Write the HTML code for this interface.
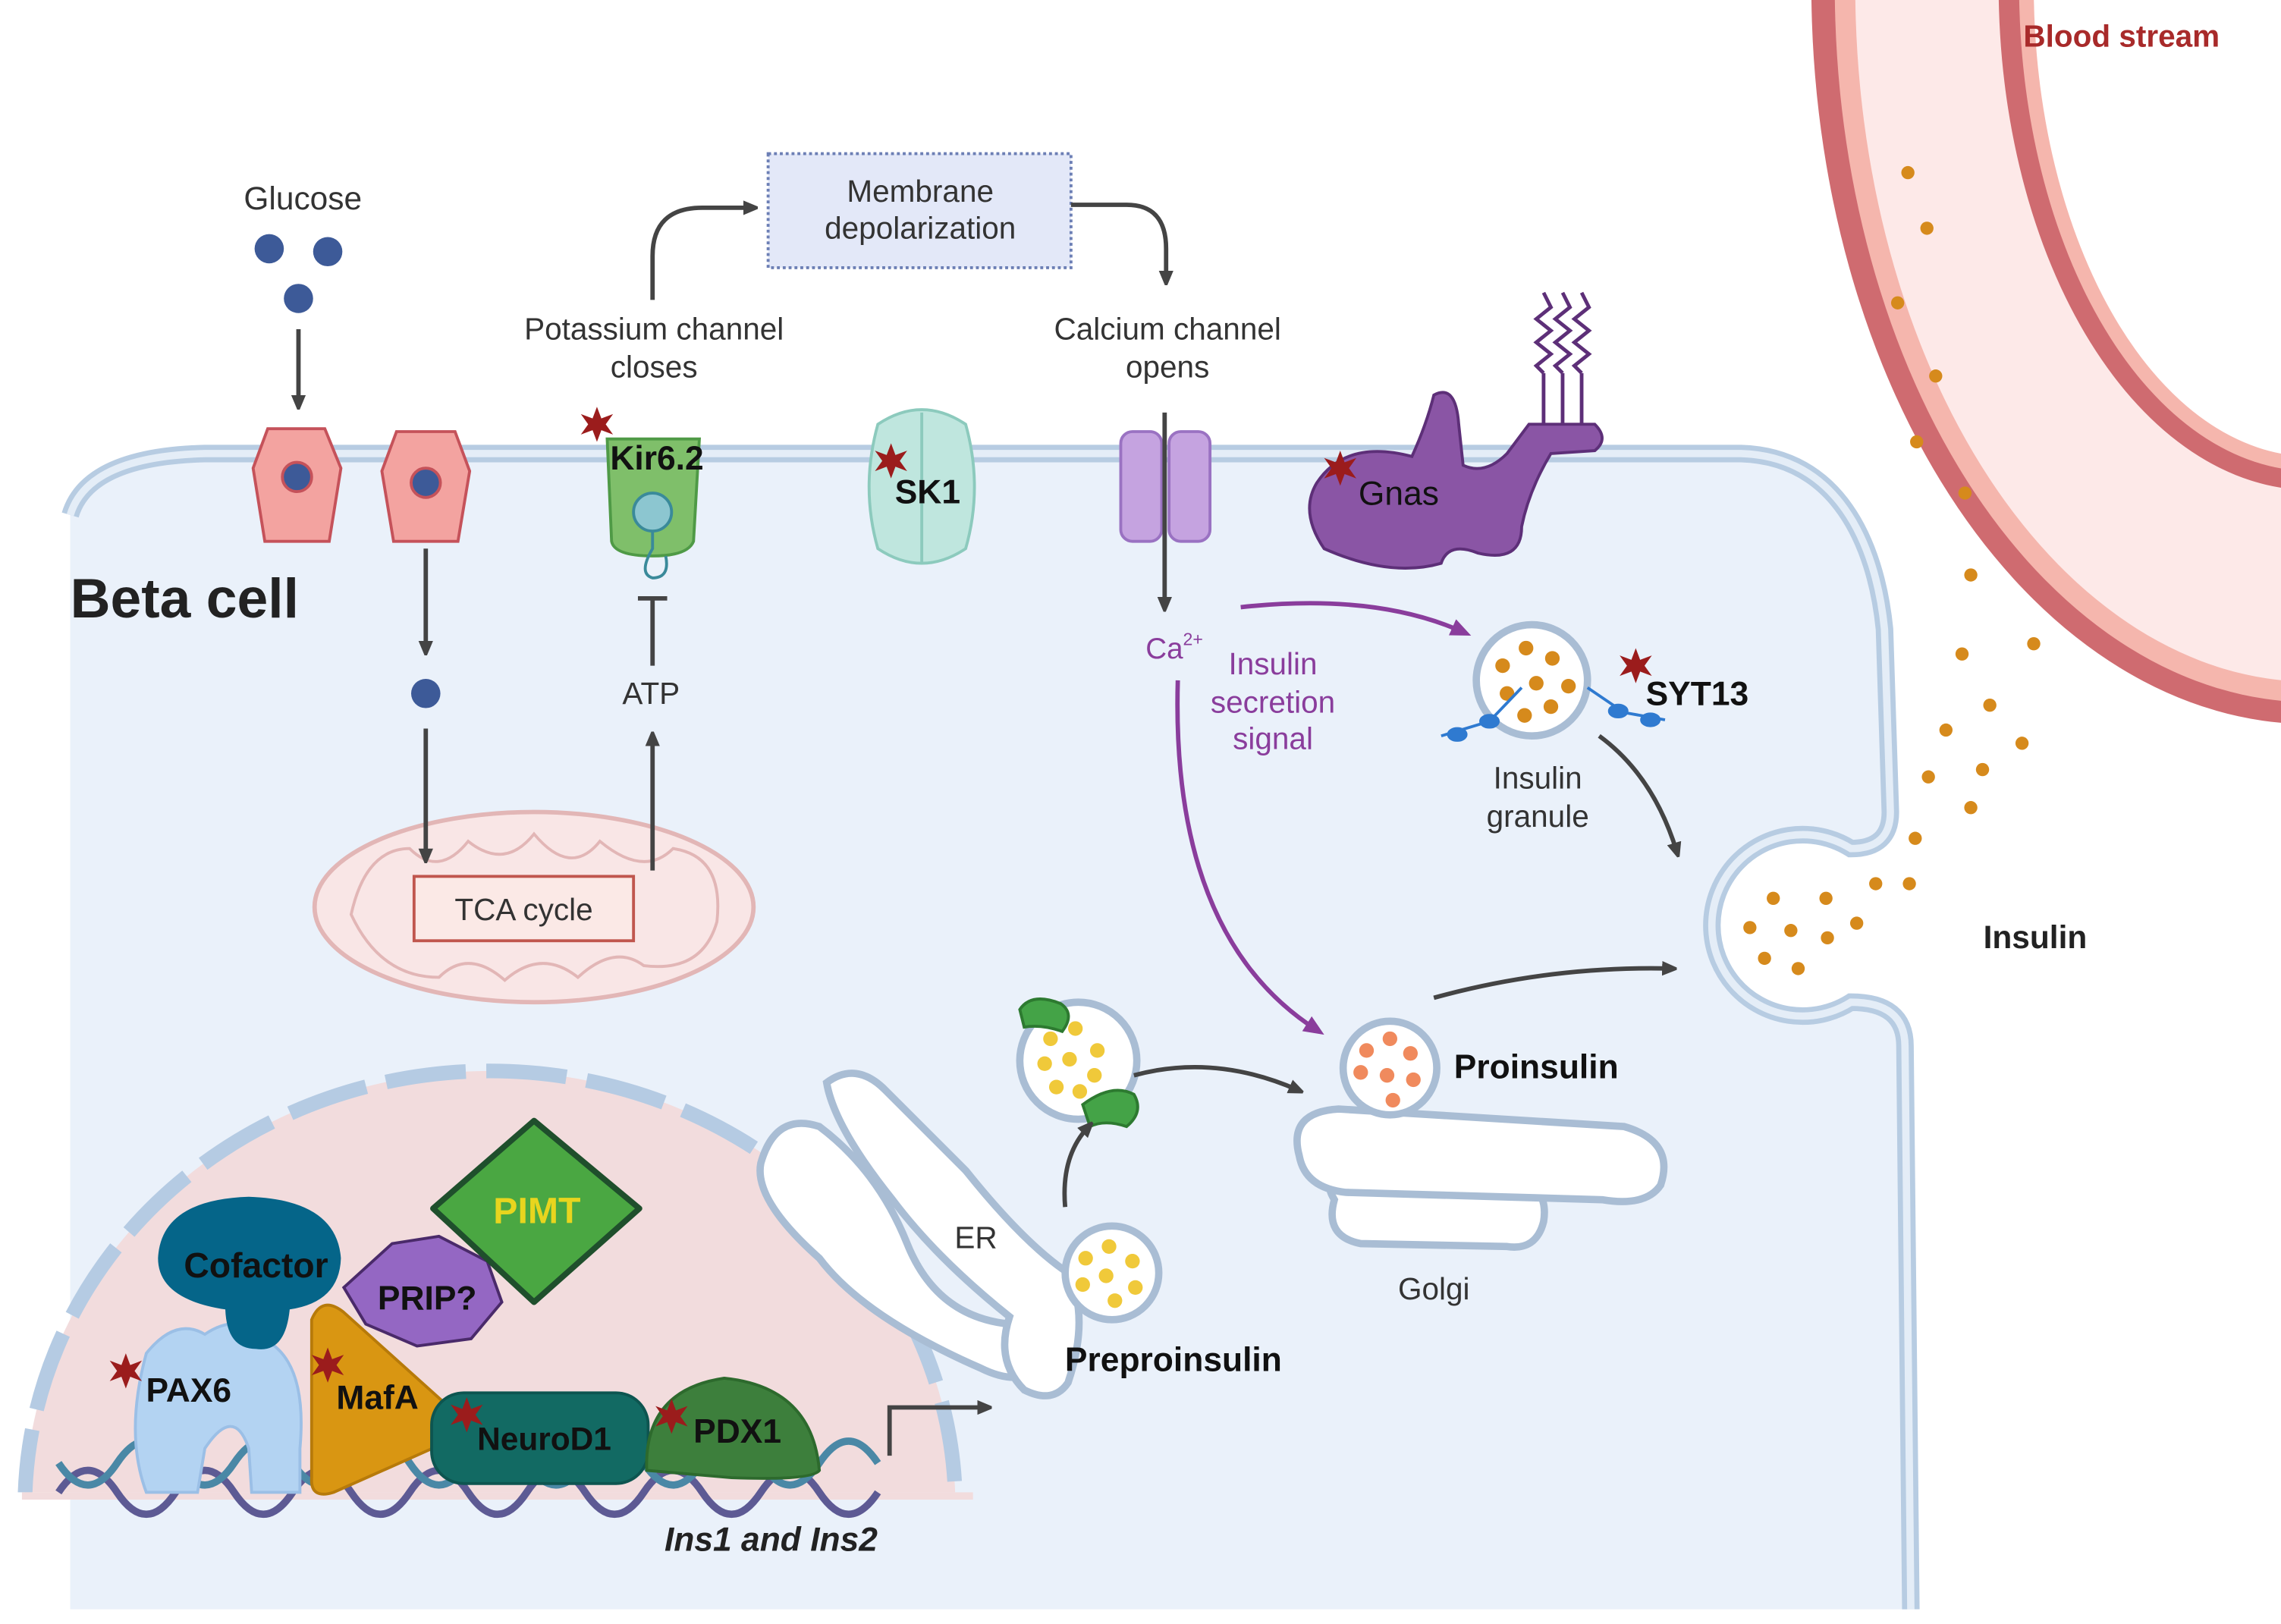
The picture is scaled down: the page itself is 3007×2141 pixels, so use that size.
<!DOCTYPE html>
<html><head><meta charset="utf-8"><style>
html,body{margin:0;padding:0;background:#fff;width:3007px;height:2141px;overflow:hidden}
svg{display:block}
text{font-family:"Liberation Sans",sans-serif}
</style></head><body>
<svg width="3007" height="2141" viewBox="0 0 1559 1110" preserveAspectRatio="none" xmlns="http://www.w3.org/2000/svg">
<defs>
<marker id="ah" markerWidth="10" markerHeight="10" refX="6" refY="5" orient="auto" markerUnits="userSpaceOnUse"><path d="M0,0 L12,5 L0,10 Z" fill="#444"/></marker>
<marker id="ap" markerWidth="14" markerHeight="12" refX="8" refY="6" orient="auto" markerUnits="userSpaceOnUse"><path d="M0,0 L14,6 L0,12 Z" fill="#8a3d9c"/></marker>
<clipPath id="nuc"><rect x="0" y="600" width="700" height="420"/></clipPath>
<clipPath id="pg"><rect x="0" y="0" width="1559" height="1110"/></clipPath>
<g id="star"><polygon points="0,-12 3,-4 11,-7 6,0 11,7 3,4 0,12 -3,4 -11,7 -6,0 -11,-7 -3,-4" fill="#9b1c1c"/></g>
</defs>
<rect width="1559" height="1110" fill="#fff"/>

<!-- Blood vessel -->
<g clip-path="url(#pg)">
<ellipse cx="1580" cy="-10" rx="342" ry="505" fill="#cf6b70"/>
<ellipse cx="1580" cy="-10" rx="326" ry="490" fill="#f5b6ad"/>
<ellipse cx="1580" cy="-10" rx="312" ry="476" fill="#fde9e8"/>
<ellipse cx="1580" cy="-10" rx="214" ry="345" fill="#cf6b70"/>
<ellipse cx="1580" cy="-10" rx="200" ry="332" fill="#f5b6ad"/>
<ellipse cx="1580" cy="-10" rx="190" ry="322" fill="#fff"/>
</g>
<text x="1450" y="32" font-size="21" font-weight="bold" fill="#a82a2a" text-anchor="middle">Blood stream</text>

<!-- Cell -->
<path d="M48,352 Q60,312 140,310 L1190,310 C1255,312 1282,370 1288,430 L1292,555 Q1292,580 1265,580 A62,62 0 1 0 1265,685 Q1302,685 1302,715 L1306,1100 L48,1100 Z" fill="#eaf1fa"/>
<path d="M48,352 Q60,312 140,310 L1190,310 C1255,312 1282,370 1288,430 L1292,555 Q1292,580 1265,580 A62,62 0 1 0 1265,685 Q1302,685 1302,715 L1306,1100" fill="none" stroke="#b7cce2" stroke-width="12"/>
<path d="M48,352 Q60,312 140,310 L1190,310 C1255,312 1282,370 1288,430 L1292,555 Q1292,580 1265,580 A62,62 0 1 0 1265,685 Q1302,685 1302,715 L1306,1100" fill="none" stroke="#e4edf7" stroke-width="5"/>
<rect x="40" y="1100" width="1280" height="10" fill="#fff"/>
<text x="48" y="422" font-size="38" font-weight="bold" fill="#222">Beta cell</text>

<!-- Mitochondrion -->
<ellipse cx="365" cy="620" rx="150" ry="65" fill="#f9e6e6" stroke="#e2b6b6" stroke-width="3"/>
<path d="M240,625 Q250,580 280,580 Q300,600 320,575 Q345,595 365,570 Q390,600 410,575 Q440,600 460,580 Q495,585 490,630 Q480,665 440,660 Q420,645 395,668 Q370,648 345,670 Q320,648 300,668 Q260,668 240,625 Z" fill="none" stroke="#e2b6b6" stroke-width="2"/>
<rect x="283" y="599" width="150" height="44" fill="#fbe9e6" stroke="#c0564e" stroke-width="2"/>
<text x="358" y="629" font-size="21" fill="#333" text-anchor="middle">TCA cycle</text>

<!-- Glucose -->
<text x="207" y="143" font-size="22" fill="#333" text-anchor="middle">Glucose</text>
<g fill="#3d5a98"><circle cx="184" cy="170" r="10"/><circle cx="224" cy="172" r="10"/><circle cx="204" cy="204" r="10"/><circle cx="291" cy="474" r="10"/></g>
<g stroke="#444" stroke-width="3"><line x1="446" y1="455" x2="446" y2="410"/><line x1="436" y1="409" x2="456" y2="409"/></g>
<text x="445" y="481" font-size="21" fill="#333" text-anchor="middle">ATP</text>

<!-- GLUTs -->
<g fill="#f3a3a0" stroke="#c5525a" stroke-width="2">
<path d="M183,293 L222,293 L233,320 L225,370 L181,370 L173,320 Z"/>
<path d="M271,295 L311,295 L321,322 L313,370 L269,370 L261,322 Z"/>
</g>
<g fill="#3d5a98" stroke="#c5525a" stroke-width="2"><circle cx="203" cy="326" r="10"/><circle cx="291" cy="330" r="10"/></g>

<!-- Kir6.2 -->
<path d="M415,300 L478,300 L474,370 Q470,380 446,380 Q420,380 418,370 Z" fill="#7fbf6a" stroke="#4f9a46" stroke-width="2"/>
<circle cx="446" cy="350" r="13" fill="#8cc6d0" stroke="#3a8a9a" stroke-width="2"/>
<path d="M446,363 L446,375 Q436,392 446,395 Q458,395 455,380" fill="none" stroke="#3a8a9a" stroke-width="2"/>
<use href="#star" x="408" y="290"/>
<text x="449" y="321" font-size="23" font-weight="bold" fill="#111" text-anchor="middle">Kir6.2</text>
<text x="447" y="232" font-size="21" fill="#333" text-anchor="middle">Potassium channel</text>
<text x="447" y="258" font-size="21" fill="#333" text-anchor="middle">closes</text>

<!-- Depolarization box -->
<rect x="525" y="105" width="207" height="78" fill="#e3e8f8" stroke="#6c7fb5" stroke-width="2" stroke-dasharray="2,2"/>
<text x="629" y="138" font-size="21" fill="#333" text-anchor="middle">Membrane</text>
<text x="629" y="163" font-size="21" fill="#333" text-anchor="middle">depolarization</text>

<!-- SK1 -->
<path d="M600,290 Q630,270 660,290 Q672,333 660,375 Q630,395 600,375 Q588,333 600,290 Z" fill="#bfe6de" stroke="#8ccabd" stroke-width="2"/>
<line x1="630" y1="282" x2="630" y2="385" stroke="#8ccabd" stroke-width="2"/>
<use href="#star" x="609" y="315"/>
<text x="634" y="344" font-size="23" font-weight="bold" fill="#111" text-anchor="middle">SK1</text>

<!-- Calcium channel -->
<text x="798" y="232" font-size="21" fill="#333" text-anchor="middle">Calcium channel</text>
<text x="798" y="258" font-size="21" fill="#333" text-anchor="middle">opens</text>
<rect x="766" y="295" width="28" height="75" rx="8" fill="#c5a3e0" stroke="#9a72c2" stroke-width="2"/>
<rect x="799" y="295" width="28" height="75" rx="8" fill="#c5a3e0" stroke="#9a72c2" stroke-width="2"/>
<text x="783" y="450" font-size="20" fill="#8a3d9c">Ca<tspan font-size="12" dy="-9">2+</tspan></text>

<!-- Gnas -->
<path d="M900,330 Q920,300 965,312 Q975,290 980,270 Q995,262 997,290 L1000,318 Q1015,325 1030,310 L1045,290 L1090,290 Q1100,300 1090,308 L1060,310 Q1045,335 1040,360 Q1040,385 1010,378 Q990,370 985,385 Q950,395 905,375 Q888,350 900,330 Z" fill="#8a55a5" stroke="#5d2f78" stroke-width="2"/>
<g fill="none" stroke="#5d2f78" stroke-width="2.5">
<path d="M1055,290 L1055,255 M1068,290 L1068,255 M1081,290 L1081,255"/>
<path d="M1055,255 L1050,250 L1060,242 L1050,234 L1060,226 L1050,218 L1060,210 L1055,200"/>
<path d="M1068,255 L1063,250 L1073,242 L1063,234 L1073,226 L1063,218 L1073,210 L1068,200"/>
<path d="M1081,255 L1076,250 L1086,242 L1076,234 L1086,226 L1076,218 L1086,210 L1081,200"/>
</g>
<use href="#star" x="916" y="320"/>
<text x="956" y="345" font-size="23" fill="#111" text-anchor="middle">Gnas</text>

<text x="870" y="461" font-size="21" fill="#8a3d9c" text-anchor="middle">Insulin</text>
<text x="870" y="487" font-size="21" fill="#8a3d9c" text-anchor="middle">secretion</text>
<text x="870" y="512" font-size="21" fill="#8a3d9c" text-anchor="middle">signal</text>

<!-- Insulin granule -->
<circle cx="1047" cy="465" r="38" fill="#fff" stroke="#a9bdd4" stroke-width="5"/>
<g fill="#d68a1c"><circle cx="1027" cy="455" r="5"/><circle cx="1043" cy="443" r="5"/><circle cx="1061" cy="450" r="5"/><circle cx="1050" cy="467" r="5"/><circle cx="1030" cy="474" r="5"/><circle cx="1072" cy="469" r="5"/><circle cx="1042" cy="489" r="5"/><circle cx="1060" cy="483" r="5"/></g>
<g stroke="#2f7ad0" stroke-width="2" fill="#2f7ad0"><path d="M985,503 L1018,493 L1040,470" fill="none"/><path d="M1138,492 L1110,487 L1085,470" fill="none"/><ellipse cx="996" cy="502" rx="6" ry="4"/><ellipse cx="1018" cy="493" rx="6" ry="4"/><ellipse cx="1106" cy="486" rx="6" ry="4"/><ellipse cx="1128" cy="492" rx="6" ry="4"/></g>
<use href="#star" x="1118" y="455"/>
<text x="1160" y="482" font-size="23" font-weight="bold" fill="#111" text-anchor="middle">SYT13</text>
<text x="1051" y="539" font-size="21" fill="#333" text-anchor="middle">Insulin</text>
<text x="1051" y="565" font-size="21" fill="#333" text-anchor="middle">granule</text>

<!-- Insulin dots -->
<g fill="#d68a1c">
<circle cx="1304" cy="118" r="4.5"/><circle cx="1317" cy="156" r="4.5"/><circle cx="1297" cy="207" r="4.5"/><circle cx="1323" cy="257" r="4.5"/><circle cx="1310" cy="302" r="4.5"/><circle cx="1343" cy="337" r="4.5"/><circle cx="1347" cy="393" r="4.5"/><circle cx="1390" cy="440" r="4.5"/><circle cx="1341" cy="447" r="4.5"/><circle cx="1360" cy="482" r="4.5"/><circle cx="1330" cy="499" r="4.5"/><circle cx="1382" cy="508" r="4.5"/><circle cx="1355" cy="526" r="4.5"/><circle cx="1318" cy="531" r="4.5"/><circle cx="1347" cy="552" r="4.5"/><circle cx="1309" cy="573" r="4.5"/><circle cx="1282" cy="604" r="4.5"/><circle cx="1305" cy="604" r="4.5"/>
<circle cx="1212" cy="614" r="4.5"/><circle cx="1248" cy="614" r="4.5"/><circle cx="1269" cy="631" r="4.5"/><circle cx="1196" cy="634" r="4.5"/><circle cx="1224" cy="636" r="4.5"/><circle cx="1249" cy="641" r="4.5"/><circle cx="1206" cy="655" r="4.5"/><circle cx="1229" cy="662" r="4.5"/>
</g>
<text x="1391" y="648" font-size="22" font-weight="bold" fill="#222" text-anchor="middle">Insulin</text>

<!-- Golgi -->
<g fill="#fff" stroke="#a9bdd4" stroke-width="5">
<path d="M912,820 Q900,800 930,798 L1020,800 Q1060,805 1055,835 Q1050,855 1030,852 L930,850 Q905,845 912,820 Z"/>
<path d="M888,790 Q880,760 915,758 L1110,770 Q1145,780 1135,810 Q1125,825 1095,820 L920,815 Q892,812 888,790 Z"/>
<circle cx="950" cy="730" r="32"/>
</g>
<g fill="#f08a5d"><circle cx="934" cy="718" r="5"/><circle cx="950" cy="710" r="5"/><circle cx="964" cy="720" r="5"/><circle cx="930" cy="733" r="5"/><circle cx="948" cy="735" r="5"/><circle cx="966" cy="738" r="5"/><circle cx="952" cy="752" r="5"/></g>
<text x="1050" y="737" font-size="23" font-weight="bold" fill="#111" text-anchor="middle">Proinsulin</text>
<text x="980" y="888" font-size="21" fill="#333" text-anchor="middle">Golgi</text>

<!-- coated vesicle -->
<circle cx="737" cy="725" r="40" fill="#fff" stroke="#a9bdd4" stroke-width="5"/>
<g fill="#f0c93a"><circle cx="718" cy="710" r="5"/><circle cx="735" cy="703" r="5"/><circle cx="750" cy="718" r="5"/><circle cx="714" cy="727" r="5"/><circle cx="731" cy="724" r="5"/><circle cx="748" cy="735" r="5"/><circle cx="722" cy="743" r="5"/><circle cx="738" cy="746" r="5"/></g>
<path d="M697,690 Q705,678 725,686 Q735,693 726,705 Q712,700 700,702 Z" fill="#44a347" stroke="#2d7a30" stroke-width="2"/>
<path d="M740,755 Q760,740 775,748 Q782,760 770,770 Q755,765 745,770 Z" fill="#44a347" stroke="#2d7a30" stroke-width="2"/>

<!-- Nucleus -->
<g clip-path="url(#nuc)">
<ellipse cx="335" cy="1030" rx="318" ry="298" fill="#f2dcdd"/>
<ellipse cx="335" cy="1030" rx="318" ry="298" fill="none" stroke="#b5cbe3" stroke-width="10" stroke-dasharray="55,14"/>
</g>
<rect x="15" y="1020" width="650" height="5" fill="#f2dcdd"/>

<!-- ER -->
<g fill="#fff" stroke="#a9bdd4" stroke-width="5">
<path d="M520,795 Q530,760 560,770 Q600,800 620,850 Q640,900 690,905 Q720,905 715,930 Q700,950 670,935 Q590,900 560,860 Q515,820 520,795 Z"/>
<path d="M565,740 Q585,725 605,745 L660,800 Q700,850 730,870 Q745,900 730,945 Q720,960 700,950 Q680,930 690,900 Q640,860 610,820 Q570,770 565,740 Z"/>
<circle cx="760" cy="870" r="32"/>
</g>
<g fill="#f0c93a"><circle cx="742" cy="860" r="5"/><circle cx="758" cy="852" r="5"/><circle cx="774" cy="862" r="5"/><circle cx="740" cy="878" r="5"/><circle cx="756" cy="872" r="5"/><circle cx="776" cy="880" r="5"/><circle cx="762" cy="889" r="5"/></g>
<text x="667" y="853" font-size="21" fill="#333" text-anchor="middle">ER</text>
<text x="802" y="937" font-size="23" font-weight="bold" fill="#111" text-anchor="middle">Preproinsulin</text>

<!-- Arrows -->
<g stroke="#444" stroke-width="3" fill="none" marker-end="url(#ah)">
<line x1="204" y1="225" x2="204" y2="276"/>
<line x1="291" y1="375" x2="291" y2="444"/>
<line x1="291" y1="498" x2="291" y2="586"/>
<line x1="446" y1="595" x2="446" y2="504"/>
<path d="M446,205 L446,175 Q446,142 480,142 L514,142"/>
<path d="M732,140 L770,140 Q797,140 797,170 L797,191"/>
<line x1="796" y1="282" x2="796" y2="414"/>
<path d="M1093,503 Q1130,530 1146,582"/>
<path d="M980,682 Q1060,660 1142,662"/>
<path d="M775,735 Q830,720 887,745"/>
<path d="M728,825 Q725,790 744,770"/>
<path d="M608,995 L608,962 L674,962"/>
</g>
<g fill="none" stroke="#8a3d9c" stroke-width="3" marker-end="url(#ap)">
<path d="M848,415 Q940,405 1000,432"/>
<path d="M805,465 Q800,640 900,704"/>
</g>

<!-- DNA -->
<g fill="none" stroke-width="5">
<path d="M40,1020 Q60,990 80,1020 T120,1020 T160,1020 T200,1020 T240,1020 T280,1020 T320,1020 T360,1020 T400,1020 T440,1020 T480,1020 T520,1020 T560,1020 T600,1020" stroke="#5d5a94"/>
<path d="M40,1000 Q60,1030 80,1000 T120,1000 T160,1000 T200,1000 T240,1000 T280,1000 T320,1000 T360,1000 T400,1000 T440,1000 T480,1000 T520,1000 T560,1000 T600,1000" stroke="#4a88a6"/>
</g>
<!-- Factors -->
<path d="M100,925 Q120,900 140,912 Q165,895 185,918 Q210,935 205,990 L205,1020 L172,1020 L170,990 Q160,960 140,990 L135,1020 L100,1020 Q85,980 100,925 Z" fill="#b3d3f2" stroke="#9bbfe6" stroke-width="2"/>
<path d="M108,860 Q110,820 170,818 Q230,820 233,860 Q232,890 198,895 Q195,925 175,922 Q155,922 154,895 Q108,888 108,860 Z" fill="#056589"/>
<text x="175" y="873" font-size="24" font-weight="bold" fill="#111" text-anchor="middle">Cofactor</text>
<path d="M268,850 L300,845 L333,862 L343,890 L322,915 L285,920 L250,905 L235,880 Z" fill="#9467c3" stroke="#4a2a6a" stroke-width="2"/>
<text x="292" y="895" font-size="23" font-weight="bold" fill="#111" text-anchor="middle">PRIP?</text>
<path d="M365,766 L437,826 L365,890 L296,826 Z" fill="#4aa742" stroke="#1f4f2c" stroke-width="4" stroke-linejoin="round"/>
<text x="367" y="836" font-size="25" font-weight="bold" fill="#e8d51e" text-anchor="middle">PIMT</text>
<path d="M213,902 Q220,885 235,897 L305,960 Q312,975 300,988 L228,1020 Q212,1025 213,1010 Z" fill="#d99612" stroke="#b77a0a" stroke-width="2"/>
<text x="258" y="963" font-size="23" font-weight="bold" fill="#111" text-anchor="middle">MafA</text>
<rect x="295" y="952" width="148" height="62" rx="22" fill="#126a63" stroke="#0d5550" stroke-width="2"/>
<text x="372" y="991" font-size="22" font-weight="bold" fill="#111" text-anchor="middle">NeuroD1</text>
<path d="M442,1005 Q440,950 495,942 Q555,948 560,1005 Q555,1012 500,1010 Z" fill="#3d7f3c" stroke="#2d6a2d" stroke-width="2"/>
<text x="504" y="986" font-size="23" font-weight="bold" fill="#111" text-anchor="middle">PDX1</text>
<text x="129" y="958" font-size="23" font-weight="bold" fill="#111" text-anchor="middle">PAX6</text>
<use href="#star" x="86" y="937"/><use href="#star" x="224" y="933"/><use href="#star" x="319" y="967"/><use href="#star" x="459" y="968"/>
<text x="527" y="1060" font-size="23" font-weight="bold" font-style="italic" fill="#222" text-anchor="middle">Ins1 and Ins2</text>
</svg>
</body></html>
